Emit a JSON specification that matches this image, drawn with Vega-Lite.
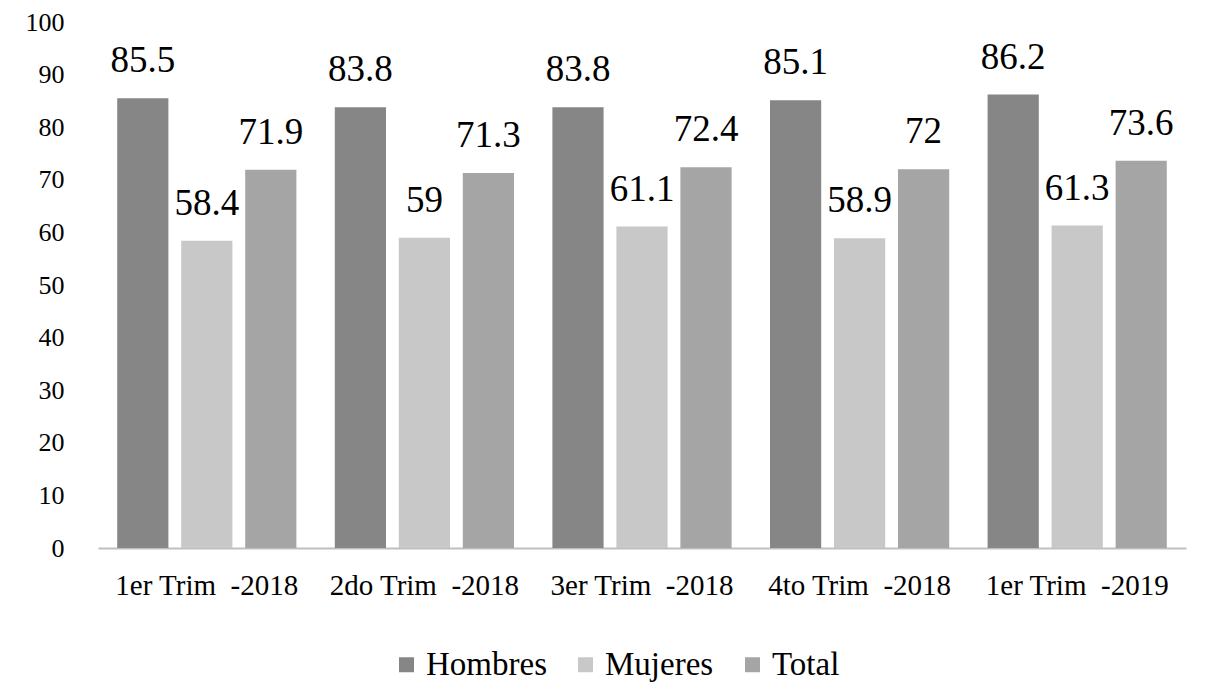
{
  "$schema": "https://vega.github.io/schema/vega-lite/v6.json",
  "width": 1088,
  "height": 526,
  "autosize": "none",
  "padding": {"left": 98, "top": 22, "right": 36, "bottom": 141},
  "background": "white",
  "config": {
    "font": "Liberation Serif",
    "view": {"stroke": null}
  },
  "data": {
    "values": [
      {"periodo": "1er Trim\u00a0 -2018", "serie": "Hombres", "valor": 85.5},
      {"periodo": "1er Trim\u00a0 -2018", "serie": "Mujeres", "valor": 58.4},
      {"periodo": "1er Trim\u00a0 -2018", "serie": "Total", "valor": 71.9},
      {"periodo": "2do Trim\u00a0 -2018", "serie": "Hombres", "valor": 83.8},
      {"periodo": "2do Trim\u00a0 -2018", "serie": "Mujeres", "valor": 59},
      {"periodo": "2do Trim\u00a0 -2018", "serie": "Total", "valor": 71.3},
      {"periodo": "3er Trim\u00a0 -2018", "serie": "Hombres", "valor": 83.8},
      {"periodo": "3er Trim\u00a0 -2018", "serie": "Mujeres", "valor": 61.1},
      {"periodo": "3er Trim\u00a0 -2018", "serie": "Total", "valor": 72.4},
      {"periodo": "4to Trim\u00a0 -2018", "serie": "Hombres", "valor": 85.1},
      {"periodo": "4to Trim\u00a0 -2018", "serie": "Mujeres", "valor": 58.9},
      {"periodo": "4to Trim\u00a0 -2018", "serie": "Total", "valor": 72},
      {"periodo": "1er Trim\u00a0 -2019", "serie": "Hombres", "valor": 86.2},
      {"periodo": "1er Trim\u00a0 -2019", "serie": "Mujeres", "valor": 61.3},
      {"periodo": "1er Trim\u00a0 -2019", "serie": "Total", "valor": 73.6}
    ]
  },
  "encoding": {
    "x": {
      "field": "periodo",
      "type": "nominal",
      "sort": null,
      "title": null,
      "scale": {"paddingInner": 0, "paddingOuter": 0},
      "axis": {
        "labelAngle": 0,
        "labelFont": "Liberation Serif",
        "labelFontSize": 29,
        "labelColor": "black",
        "labelPadding": 23,
        "labelLimit": 400,
        "ticks": false,
        "domainColor": "#bfbfbf",
        "domainWidth": 2
      }
    },
    "xOffset": {
      "field": "serie",
      "type": "nominal",
      "sort": ["Hombres", "Mujeres", "Total"],
      "scale": {"paddingInner": 0.2, "paddingOuter": 0.3}
    },
    "y": {
      "field": "valor",
      "type": "quantitative",
      "title": null,
      "scale": {"domain": [0, 100], "nice": false},
      "axis": {
        "values": [0, 10, 20, 30, 40, 50, 60, 70, 80, 90, 100],
        "grid": false,
        "domain": false,
        "ticks": false,
        "labelFont": "Liberation Serif",
        "labelFontSize": 26,
        "labelColor": "black",
        "labelPadding": 34
      }
    }
  },
  "layer": [
    {
      "mark": {"type": "bar"},
      "encoding": {
        "color": {
          "field": "serie",
          "type": "nominal",
          "sort": ["Hombres", "Mujeres", "Total"],
          "scale": {
            "domain": ["Hombres", "Mujeres", "Total"],
            "range": ["#868686", "#c8c8c8", "#a5a5a5"]
          },
          "legend": {
            "title": null,
            "orient": "none",
            "direction": "horizontal",
            "legendX": 292,
            "legendY": 626,
            "padding": 0,
            "symbolType": "square",
            "symbolSize": 225,
            "symbolStrokeWidth": 0,
            "labelFont": "Liberation Serif",
            "labelFontSize": 33,
            "labelColor": "black",
            "labelOffset": 3,
            "columnPadding": 22,
            "labelLimit": 300
          }
        }
      }
    },
    {
      "mark": {"type": "text", "baseline": "alphabetic", "dy": -26, "fontSize": 37, "font": "Liberation Serif", "color": "black"},
      "encoding": {
        "text": {"field": "valor", "type": "quantitative"}
      }
    }
  ]
}
